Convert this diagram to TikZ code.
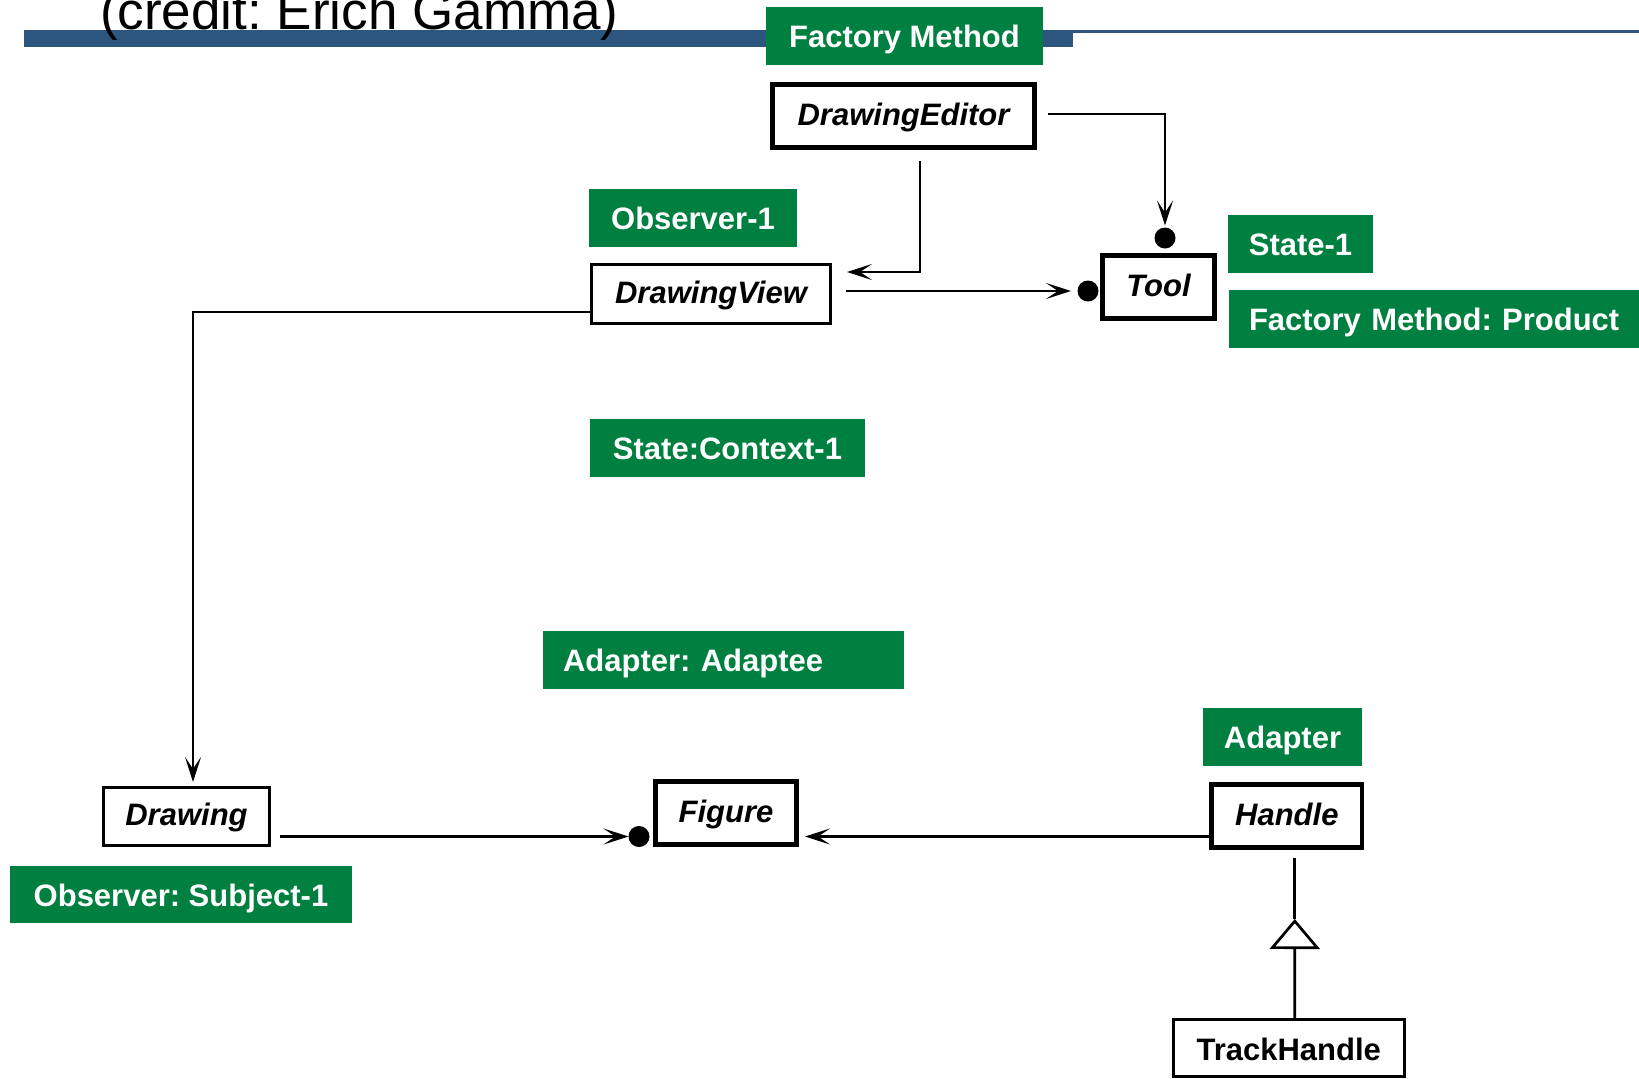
\documentclass[tikz,border=0pt]{standalone}
\usepackage{fontspec}
\setmainfont{Liberation Sans}
\usetikzlibrary{arrows.meta}
\definecolor{lblgreen}{RGB}{0,128,64}
\definecolor{barblue}{RGB}{44,86,126}
\frenchspacing
\begin{document}
\frenchspacing
\begin{tikzpicture}[x=1pt,y=-1pt,
  lbl/.style={fill=lblgreen, text=white, font=\frenchspacing\bfseries\fontsize{31pt}{31pt}\selectfont, inner sep=0pt, outer sep=0pt, minimum height=58pt, text height=23pt, text depth=0pt},
  cls/.style={draw=black, fill=white, font=\bfseries\itshape\fontsize{31pt}{31pt}\selectfont, inner sep=0pt, text height=20pt, text depth=2pt},
  thinbox/.style={line width=3pt, outer sep=1.5pt},
  thickbox/.style={line width=4.7pt, outer sep=2.35pt},
  conn/.style={line width=2.7pt, draw=black},
  arr/.style={-{Stealth[length=25pt,width=16pt,inset=12pt]}},
  dotn/.style={circle, fill=black, inner sep=0pt, minimum size=21pt, outer sep=0pt}
]
\path[use as bounding box, clip] (0,0) rectangle (1639,1079);
\fill[white] (0,0) rectangle (1639,1079);
% header bar
\fill[barblue] (24,30) rectangle (1073,47);
\fill[barblue] (1073,30) rectangle (1639,33);
\node[anchor=base west, inner sep=0pt, font=\fontsize{53pt}{53pt}\selectfont] (credit) at (100,29) {(credit: Erich Gamma)};

% green labels
\node[lbl, minimum width=277pt] (fm) at (904.5,36) {Factory Method};
\node[lbl, minimum width=208pt] (ob1) at (693,218) {Observer-1};
\node[lbl, minimum width=145pt] (st1) at (1300.5,244) {State-1};
\node[lbl, anchor=west, text width=391pt, align=left, inner xsep=20pt] (fmp) at (1229,319) {Factory Method: Product};
\node[lbl, minimum width=275pt] (sc1) at (727.5,448) {State:Context-1};
\node[lbl, anchor=west, text width=321pt, align=left, inner xsep=20pt] (aa) at (543,660) {Adapter: Adaptee};
\node[lbl, minimum width=159pt] (adp) at (1282.5,737) {Adapter};
\node[lbl, minimum width=342.5pt, minimum height=57pt] (obs) at (181,894.5) {Observer: Subject-1};

% classes
\node[cls, thickbox, minimum width=262.3pt, minimum height=63.3pt] (de) at (903.5,116) {DrawingEditor};
\node[cls, thinbox, minimum width=239pt, minimum height=59pt] (dv) at (711,294) {DrawingView};
\node[cls, thickbox, minimum width=112.3pt, minimum height=63.3pt] (tl) at (1158.5,287) {Tool};
\node[cls, thinbox, minimum width=166pt, minimum height=58pt] (dr) at (186.5,816.5) {Drawing};
\node[cls, thickbox, minimum width=141.3pt, minimum height=63.3pt] (fg) at (726,813) {Figure};
\node[cls, thickbox, minimum width=150.3pt, minimum height=63.3pt] (hd) at (1286.8,816) {Handle};
\node[cls, thinbox, font=\bfseries\fontsize{31pt}{31pt}\selectfont, text height=24pt, text depth=0pt, minimum width=231pt, minimum height=57pt] (th) at (1288.7,1048) {TrackHandle};

% dots
\node[dotn] (dot1) at (1165,238) {};
\node[dotn] (dot2) at (1088,291) {};
\node[dotn] (dot3) at (639,836.5) {};

% connectors
\draw[conn,arr,shorten >=2pt] ([shift={(11pt,2pt)}]de.east) -| (dot1.north);
\draw[conn,arr] ([shift={(16.5pt,-11pt)}]de.south) |- ([shift={(15pt,22pt)}]dv.east);
\draw[conn,arr,shorten >=6.5pt] ([shift={(14pt,3pt)}]dv.east) -- (dot2.west);
\draw[conn,arr] ([yshift=-18pt]dv.west) -| ([shift={(6.5pt,4pt)}]dr.north);
\draw[conn,arr] ([shift={(9pt,-20pt)}]dr.east) -- (dot3.west);
\draw[conn,arr,shorten >=6pt] ([yshift=-20.5pt]hd.west) -- ([yshift=-23.5pt]fg.east);
\draw[conn,-{Triangle[open,length=30pt,width=50pt]}] ([xshift=6pt]th.north) -- ([shift={(8pt,-69pt)}]hd.south);
\draw[conn] ([shift={(8pt,-69pt)}]hd.south) -- ([shift={(8pt,-8pt)}]hd.south);
\end{tikzpicture}
\end{document}
